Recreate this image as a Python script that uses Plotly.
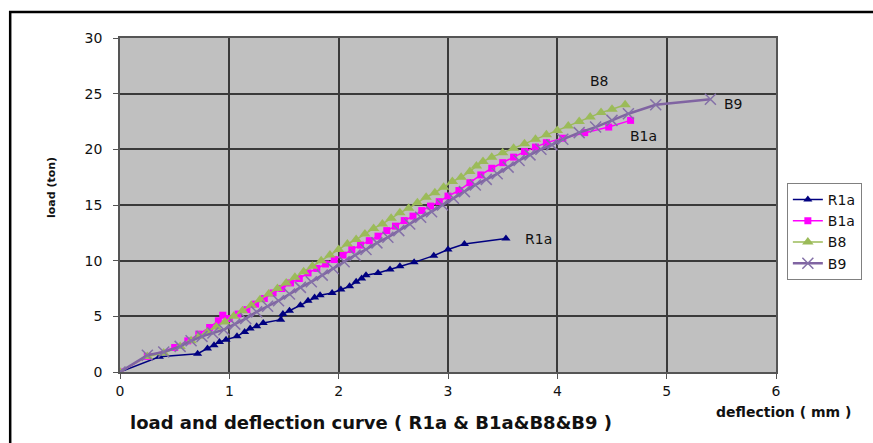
import plotly.graph_objects as go

# ---------------- data ----------------
r1a_x = [0, 0.36, 0.71, 0.80, 0.86, 0.91, 0.97, 1.07, 1.14, 1.19, 1.25, 1.31, 1.47, 1.49, 1.55,
         1.65, 1.72, 1.78, 1.83, 1.94, 2.02, 2.10, 2.16, 2.21, 2.25, 2.36, 2.47, 2.56, 2.69, 2.87,
         3.00, 3.15, 3.53]
r1a_y = [0, 1.37, 1.64, 2.1, 2.4, 2.7, 2.9, 3.2, 3.6, 3.9, 4.1, 4.4, 4.7, 5.2, 5.5,
         6.0, 6.4, 6.7, 6.9, 7.1, 7.4, 7.7, 8.1, 8.4, 8.7, 8.9, 9.2, 9.5, 9.85, 10.45,
         11.0, 11.5, 12.0]

b1a_x = [0, 0.25, 0.50, 0.62, 0.72, 0.82, 0.90, 0.94, 1.00, 1.08, 1.16, 1.24, 1.32, 1.40, 1.48,
         1.56, 1.64, 1.72, 1.80, 1.88, 1.96, 2.04, 2.12, 2.20, 2.28, 2.36, 2.44, 2.52, 2.60, 2.68,
         2.76, 2.84, 2.92, 3.00, 3.10, 3.20, 3.30, 3.40, 3.50, 3.60, 3.70, 3.80, 3.90, 4.05, 4.25,
         4.47, 4.67]
b1a_y = [0, 1.4, 2.2, 2.8, 3.4, 4.0, 4.6, 5.1, 4.8, 5.2, 5.6, 6.1, 6.6, 7.1, 7.5,
         8.0, 8.4, 8.9, 9.3, 9.7, 10.1, 10.5, 11.0, 11.4, 11.8, 12.2, 12.7, 13.1, 13.6, 14.0,
         14.5, 14.9, 15.3, 15.8, 16.3, 17.0, 17.7, 18.3, 18.8, 19.3, 19.8, 20.2, 20.6, 21.0, 21.5,
         22.0, 22.6]

b8_x = [0, 0.25, 0.40, 0.55, 0.65, 0.72, 0.80, 0.88, 0.96, 1.04, 1.12, 1.20, 1.28, 1.36, 1.44,
        1.52, 1.60, 1.68, 1.76, 1.84, 1.92, 2.00, 2.08, 2.16, 2.24, 2.32, 2.40, 2.48, 2.56, 2.64,
        2.72, 2.80, 2.88, 2.96, 3.04, 3.12, 3.20, 3.26, 3.32, 3.40, 3.50, 3.60, 3.70, 3.80, 3.90,
        4.00, 4.10, 4.20, 4.30, 4.40, 4.50, 4.62]
b8_y = [0, 1.4, 1.7, 2.3, 2.8, 3.2, 3.6, 4.05, 4.5, 5.0, 5.5, 6.0, 6.5, 7.0, 7.5,
        8.0, 8.5, 9.0, 9.5, 10.0, 10.5, 11.0, 11.5, 11.9, 12.4, 12.9, 13.3, 13.8, 14.3, 14.7,
        15.2, 15.7, 16.1, 16.6, 17.1, 17.5, 18.0, 18.5, 18.9, 19.3, 19.7, 20.1, 20.5, 20.9, 21.3,
        21.7, 22.1, 22.5, 22.9, 23.3, 23.6, 24.0]

b9_x = [0, 0.25, 0.40, 0.55, 0.65, 0.75, 0.85, 0.95, 1.05, 1.15, 1.25, 1.35, 1.45, 1.55, 1.65,
        1.75, 1.85, 1.95, 2.05, 2.15, 2.25, 2.35, 2.45, 2.55, 2.65, 2.75, 2.85, 2.95, 3.05, 3.15,
        3.25, 3.35, 3.45, 3.55, 3.65, 3.75, 3.85, 3.95, 4.05, 4.20, 4.35, 4.50, 4.65, 4.90, 5.40]
b9_y = [0, 1.5, 1.8, 2.3, 2.8, 3.2, 3.5, 3.8, 4.3, 4.8, 5.4, 5.9, 6.4, 7.0, 7.6,
        8.1, 8.7, 9.3, 9.9, 10.5, 11.0, 11.6, 12.1, 12.7, 13.3, 13.9, 14.4, 15.0, 15.6, 16.2,
        16.8, 17.3, 17.8, 18.4, 19.0, 19.5, 20.0, 20.4, 20.9, 21.5, 22.0, 22.6, 23.2, 24.0, 24.5]

x_ticks = [0, 1, 2, 3, 4, 5, 6]
y_ticks = [0, 5, 10, 15, 20, 25, 30]

labels = ["R1a", "B1a", "B8", "B9"]
label_x = [3.83, 4.79, 4.39, 5.61]
label_y = [11.95, 21.2, 26.1, 24.1]

FONT = "DejaVu Sans"

fig = go.Figure()
fig.add_trace(go.Scatter(x=r1a_x, y=r1a_y, name="R1a", mode="lines+markers",
                         line=dict(color="#000080", width=1.5),
                         marker=dict(symbol="triangle-up", size=8, color="#000080")))
fig.add_trace(go.Scatter(x=b1a_x, y=b1a_y, name="B1a", mode="lines+markers",
                         line=dict(color="#FF00FF", width=1.5),
                         marker=dict(symbol="square", size=7, color="#FF00FF")))
fig.add_trace(go.Scatter(x=b8_x, y=b8_y, name="B8", mode="lines+markers",
                         line=dict(color="#9BBB59", width=1.5),
                         marker=dict(symbol="triangle-up", size=10, color="#9BBB59")))
fig.add_trace(go.Scatter(x=b9_x, y=b9_y, name="B9", mode="lines+markers",
                         line=dict(color="#8064A2", width=2.5),
                         marker=dict(symbol="x-thin", size=11,
                                     line=dict(color="#8470A8", width=1.5))))

for t, xx, yy in zip(labels, label_x, label_y):
    fig.add_annotation(x=xx, y=yy, text=t, showarrow=False,
                       font=dict(family=FONT, size=14, color="#111111"))

fig.add_annotation(xref="paper", yref="paper", x=0.382, y=-0.150,
                   text="<b>load and deflection curve ( R1a & B1a&B8&B9 )</b>",
                   showarrow=False, xanchor="center", yanchor="middle",
                   font=dict(family=FONT, size=18, color="#111111"))
fig.add_annotation(xref="paper", yref="paper", x=1.012, y=-0.12,
                   text="<b>deflection ( mm )</b>", showarrow=False,
                   xanchor="center", yanchor="middle",
                   font=dict(family=FONT, size=14, color="#111111"))
fig.add_annotation(xref="paper", yref="paper", x=-0.1035, y=0.551,
                   text="<b>load (ton)</b>", showarrow=False, textangle=-90,
                   xanchor="center", yanchor="middle",
                   font=dict(family=FONT, size=11, color="#111111"))

fig.add_shape(type="rect", xref="paper", yref="paper",
              x0=-0.1674, x1=1.25, y0=-0.35, y1=1.0778,
              line=dict(color="black", width=2.5))

fig.update_xaxes(range=[0, 6], tickvals=x_ticks, showgrid=True,
                 gridcolor="#3a3a3a", gridwidth=1.5, zeroline=False,
                 showline=True, linecolor="#555555", linewidth=1.5, mirror=True,
                 ticks="outside", ticklen=5, tickcolor="#555555",
                 tickfont=dict(family=FONT, size=14, color="#111111"))
fig.update_yaxes(range=[0, 30], tickvals=y_ticks, showgrid=True,
                 gridcolor="#3a3a3a", gridwidth=1.5, zeroline=False,
                 showline=True, linecolor="#555555", linewidth=1.5, mirror=True,
                 ticks="outside", ticklen=5, tickcolor="#555555",
                 ticklabelstandoff=8,
                 tickfont=dict(family=FONT, size=14, color="#111111"))

fig.update_layout(width=873, height=443,
                  margin=dict(l=120, r=96, t=38, b=71),
                  paper_bgcolor="white", plot_bgcolor="#C0C0C0",
                  showlegend=True,
                  legend=dict(x=1.015, y=0.566, xanchor="left", yanchor="top",
                              bgcolor="white", bordercolor="#808080", borderwidth=1,
                              font=dict(family=FONT, size=14, color="#111111"),
                              itemwidth=30, tracegroupgap=0))

fig.write_html("out.html")
